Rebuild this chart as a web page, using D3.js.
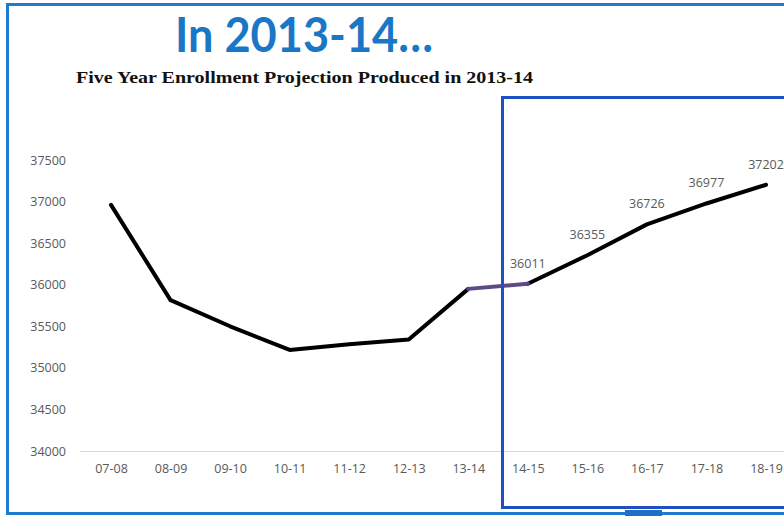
<!DOCTYPE html>
<html>
<head>
<meta charset="utf-8">
<script src="https://cdn.jsdelivr.net/npm/d3@7"></script>
<style>
  body { margin: 0; background: #fff; }
  svg { display: block; }
</style>
</head>
<body>
<script>
// Enrollment by school year, actual then projected
const years = ['07-08', '08-09', '09-10', '10-11', '11-12', '12-13', '13-14',
  '14-15', '15-16', '16-17', '17-18', '18-19']
const enrollment = [36960, 35815, 35500, 35215, 35285, 35340, 35950,
  36011, 36355, 36726, 36977, 37202]
// only the projected years carry a value label
const labelledYears = ['14-15', '15-16', '16-17', '17-18', '18-19']
const yTicks = [34000, 34500, 35000, 35500, 36000, 36500, 37000, 37500]

const width = 784
const height = 516

const svg = d3.select('body')
  .append('svg')
  .attr('width', width)
  .attr('height', height)

// Slide frame
svg.append('rect')
  .attr('x', 7.5).attr('y', 4.5)
  .attr('width', 790).attr('height', 509)
  .style('fill', 'none')
  .style('stroke', '#1f7bd0')
  .style('stroke-width', 3)

// Titles
svg.append('text')
  .attr('x', 175).attr('y', 52)
  .attr('textLength', 258)
  .attr('lengthAdjust', 'spacingAndGlyphs')
  .style('font-family', 'Lato, sans-serif')
  .style('font-weight', 'bold')
  .style('font-size', '47px')
  .style('fill', '#1a77c5')
  .text('In 2013-14…')

svg.append('text')
  .attr('x', 76).attr('y', 83)
  .attr('textLength', 457)
  .attr('lengthAdjust', 'spacingAndGlyphs')
  .style('font-family', '"Liberation Serif", serif')
  .style('font-weight', 'bold')
  .style('font-size', '17px')
  .style('fill', '#111')
  .text('Five Year Enrollment Projection Produced in 2013-14')

const x = d3.scalePoint()
  .domain(years)
  .range([111, 766])

const y = d3.scaleLinear()
  .domain([34000, 37500])
  .range([451, 160])

// Axes
const yAxis = svg.append('g')
  .attr('transform', 'translate(70,0)')
  .call(d3.axisLeft(y).tickValues(yTicks).tickFormat(d3.format('d')).tickSize(0).tickPadding(4))
yAxis.select('.domain').remove()

const xAxis = svg.append('g')
  .attr('transform', `translate(0,${y(34000)})`)
  .call(d3.axisBottom(x).tickSize(0).tickPadding(13))
xAxis.select('.domain')
  .attr('d', `M80,0.5H800`)
  .style('stroke', '#d9d9d9')

svg.selectAll('.tick text')
  .style('font-family', '"Open Sans", sans-serif')
  .style('font-size', '12.5px')
  .style('fill', '#595959')

// Line segments: actual, bridge, projection
const pts = years.map((d, i) => [x(d), y(enrollment[i])])
const line = d3.line()

const segments = [
  {pts: pts.slice(0, 7), color: '#000'},
  {pts: pts.slice(7), color: '#000'},
  {pts: pts.slice(6, 8), color: '#5e4a86'}
]
svg.selectAll('.seg')
  .data(segments)
  .join('path')
  .attr('class', 'seg')
  .attr('d', d => line(d.pts))
  .style('fill', 'none')
  .style('stroke', d => d.color)
  .style('stroke-width', 4)
  .style('stroke-linejoin', 'round')
  .style('stroke-linecap', 'round')

// Data labels
svg.selectAll('.val')
  .data(labelledYears)
  .join('text')
  .attr('class', 'val')
  .attr('x', d => x(d))
  .attr('y', d => y(enrollment[years.indexOf(d)]) - 16)
  .attr('text-anchor', 'middle')
  .style('font-family', '"Open Sans", sans-serif')
  .style('font-size', '12.5px')
  .style('fill', '#595959')
  .text(d => enrollment[years.indexOf(d)])

// Highlight box round the projection
svg.append('rect')
  .attr('x', 502.5).attr('y', 97.5)
  .attr('width', 300).attr('height', 410)
  .style('fill', 'none')
  .style('stroke', '#1f4fc2')
  .style('stroke-width', 3)

// little tab on the bottom frame edge
svg.append('rect')
  .attr('x', 625).attr('y', 510)
  .attr('width', 37).attr('height', 6)
  .style('fill', '#1f6fc8')
</script>
</body>
</html>
